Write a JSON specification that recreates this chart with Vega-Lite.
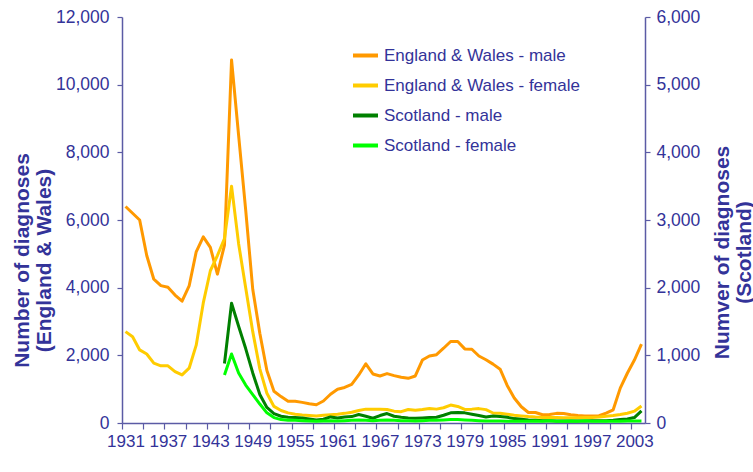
{
"$schema":"https://vega.github.io/schema/vega-lite/v6.json",
"width":523,"height":406,
"autosize":{"type":"none"},
"padding":{"left":122,"top":17,"right":108,"bottom":49},
"background":"white",
"config":{"view":{"stroke":null},"font":"Liberation Sans",
 "axis":{"grid":false,"domainColor":"#5B5BA5","tickColor":"#5B5BA5","labelColor":"#333399","titleColor":"#333399","labelFontSize":17,"domainWidth":1.5,"tickWidth":1.2}},
"datasets":{
"ew":[
{"year":1931,"series":"England & Wales - male","value":6400},{"year":1932,"series":"England & Wales - male","value":6200},{"year":1933,"series":"England & Wales - male","value":6000},{"year":1934,"series":"England & Wales - male","value":4950},{"year":1935,"series":"England & Wales - male","value":4250},{"year":1936,"series":"England & Wales - male","value":4060},{"year":1937,"series":"England & Wales - male","value":4010},{"year":1938,"series":"England & Wales - male","value":3780},{"year":1939,"series":"England & Wales - male","value":3600},{"year":1940,"series":"England & Wales - male","value":4050},{"year":1941,"series":"England & Wales - male","value":5060},{"year":1942,"series":"England & Wales - male","value":5500},{"year":1943,"series":"England & Wales - male","value":5190},{"year":1944,"series":"England & Wales - male","value":4400},{"year":1945,"series":"England & Wales - male","value":5260},{"year":1946,"series":"England & Wales - male","value":10730},{"year":1947,"series":"England & Wales - male","value":8500},{"year":1948,"series":"England & Wales - male","value":6300},{"year":1949,"series":"England & Wales - male","value":3950},{"year":1950,"series":"England & Wales - male","value":2650},{"year":1951,"series":"England & Wales - male","value":1550},{"year":1952,"series":"England & Wales - male","value":940},{"year":1953,"series":"England & Wales - male","value":780},{"year":1954,"series":"England & Wales - male","value":640},{"year":1955,"series":"England & Wales - male","value":640},{"year":1956,"series":"England & Wales - male","value":610},{"year":1957,"series":"England & Wales - male","value":570},{"year":1958,"series":"England & Wales - male","value":540},{"year":1959,"series":"England & Wales - male","value":650},{"year":1960,"series":"England & Wales - male","value":850},{"year":1961,"series":"England & Wales - male","value":1000},{"year":1962,"series":"England & Wales - male","value":1050},{"year":1963,"series":"England & Wales - male","value":1140},{"year":1964,"series":"England & Wales - male","value":1420},{"year":1965,"series":"England & Wales - male","value":1750},{"year":1966,"series":"England & Wales - male","value":1450},{"year":1967,"series":"England & Wales - male","value":1390},{"year":1968,"series":"England & Wales - male","value":1460},{"year":1969,"series":"England & Wales - male","value":1400},{"year":1970,"series":"England & Wales - male","value":1350},{"year":1971,"series":"England & Wales - male","value":1320},{"year":1972,"series":"England & Wales - male","value":1390},{"year":1973,"series":"England & Wales - male","value":1860},{"year":1974,"series":"England & Wales - male","value":1980},{"year":1975,"series":"England & Wales - male","value":2020},{"year":1976,"series":"England & Wales - male","value":2210},{"year":1977,"series":"England & Wales - male","value":2410},{"year":1978,"series":"England & Wales - male","value":2410},{"year":1979,"series":"England & Wales - male","value":2190},{"year":1980,"series":"England & Wales - male","value":2180},{"year":1981,"series":"England & Wales - male","value":1980},{"year":1982,"series":"England & Wales - male","value":1870},{"year":1983,"series":"England & Wales - male","value":1740},{"year":1984,"series":"England & Wales - male","value":1590},{"year":1985,"series":"England & Wales - male","value":1110},{"year":1986,"series":"England & Wales - male","value":740},{"year":1987,"series":"England & Wales - male","value":480},{"year":1988,"series":"England & Wales - male","value":310},{"year":1989,"series":"England & Wales - male","value":310},{"year":1990,"series":"England & Wales - male","value":245},{"year":1991,"series":"England & Wales - male","value":250},{"year":1992,"series":"England & Wales - male","value":285},{"year":1993,"series":"England & Wales - male","value":280},{"year":1994,"series":"England & Wales - male","value":245},{"year":1995,"series":"England & Wales - male","value":220},{"year":1996,"series":"England & Wales - male","value":210},{"year":1997,"series":"England & Wales - male","value":210},{"year":1998,"series":"England & Wales - male","value":215},{"year":1999,"series":"England & Wales - male","value":290},{"year":2000,"series":"England & Wales - male","value":390},{"year":2001,"series":"England & Wales - male","value":1030},{"year":2002,"series":"England & Wales - male","value":1470},{"year":2003,"series":"England & Wales - male","value":1860},{"year":2004,"series":"England & Wales - male","value":2330},
{"year":1931,"series":"England & Wales - female","value":2700},{"year":1932,"series":"England & Wales - female","value":2550},{"year":1933,"series":"England & Wales - female","value":2160},{"year":1934,"series":"England & Wales - female","value":2040},{"year":1935,"series":"England & Wales - female","value":1770},{"year":1936,"series":"England & Wales - female","value":1690},{"year":1937,"series":"England & Wales - female","value":1690},{"year":1938,"series":"England & Wales - female","value":1520},{"year":1939,"series":"England & Wales - female","value":1420},{"year":1940,"series":"England & Wales - female","value":1620},{"year":1941,"series":"England & Wales - female","value":2300},{"year":1942,"series":"England & Wales - female","value":3550},{"year":1943,"series":"England & Wales - female","value":4500},{"year":1944,"series":"England & Wales - female","value":4950},{"year":1945,"series":"England & Wales - female","value":5450},{"year":1946,"series":"England & Wales - female","value":7000},{"year":1947,"series":"England & Wales - female","value":5300},{"year":1948,"series":"England & Wales - female","value":4000},{"year":1949,"series":"England & Wales - female","value":2700},{"year":1950,"series":"England & Wales - female","value":1600},{"year":1951,"series":"England & Wales - female","value":880},{"year":1952,"series":"England & Wales - female","value":490},{"year":1953,"series":"England & Wales - female","value":370},{"year":1954,"series":"England & Wales - female","value":300},{"year":1955,"series":"England & Wales - female","value":260},{"year":1956,"series":"England & Wales - female","value":240},{"year":1957,"series":"England & Wales - female","value":225},{"year":1958,"series":"England & Wales - female","value":210},{"year":1959,"series":"England & Wales - female","value":230},{"year":1960,"series":"England & Wales - female","value":245},{"year":1961,"series":"England & Wales - female","value":260},{"year":1962,"series":"England & Wales - female","value":285},{"year":1963,"series":"England & Wales - female","value":320},{"year":1964,"series":"England & Wales - female","value":370},{"year":1965,"series":"England & Wales - female","value":410},{"year":1966,"series":"England & Wales - female","value":405},{"year":1967,"series":"England & Wales - female","value":410},{"year":1968,"series":"England & Wales - female","value":400},{"year":1969,"series":"England & Wales - female","value":350},{"year":1970,"series":"England & Wales - female","value":335},{"year":1971,"series":"England & Wales - female","value":400},{"year":1972,"series":"England & Wales - female","value":375},{"year":1973,"series":"England & Wales - female","value":400},{"year":1974,"series":"England & Wales - female","value":430},{"year":1975,"series":"England & Wales - female","value":410},{"year":1976,"series":"England & Wales - female","value":450},{"year":1977,"series":"England & Wales - female","value":530},{"year":1978,"series":"England & Wales - female","value":490},{"year":1979,"series":"England & Wales - female","value":400},{"year":1980,"series":"England & Wales - female","value":410},{"year":1981,"series":"England & Wales - female","value":425},{"year":1982,"series":"England & Wales - female","value":395},{"year":1983,"series":"England & Wales - female","value":295},{"year":1984,"series":"England & Wales - female","value":290},{"year":1985,"series":"England & Wales - female","value":260},{"year":1986,"series":"England & Wales - female","value":230},{"year":1987,"series":"England & Wales - female","value":210},{"year":1988,"series":"England & Wales - female","value":190},{"year":1989,"series":"England & Wales - female","value":175},{"year":1990,"series":"England & Wales - female","value":165},{"year":1991,"series":"England & Wales - female","value":160},{"year":1992,"series":"England & Wales - female","value":160},{"year":1993,"series":"England & Wales - female","value":155},{"year":1994,"series":"England & Wales - female","value":155},{"year":1995,"series":"England & Wales - female","value":155},{"year":1996,"series":"England & Wales - female","value":160},{"year":1997,"series":"England & Wales - female","value":165},{"year":1998,"series":"England & Wales - female","value":180},{"year":1999,"series":"England & Wales - female","value":200},{"year":2000,"series":"England & Wales - female","value":220},{"year":2001,"series":"England & Wales - female","value":250},{"year":2002,"series":"England & Wales - female","value":290},{"year":2003,"series":"England & Wales - female","value":350},{"year":2004,"series":"England & Wales - female","value":500}
],
"sc":[
{"year":1945,"series":"Scotland - male","value":880},{"year":1946,"series":"Scotland - male","value":1770},{"year":1947,"series":"Scotland - male","value":1430},{"year":1948,"series":"Scotland - male","value":1100},{"year":1949,"series":"Scotland - male","value":740},{"year":1950,"series":"Scotland - male","value":420},{"year":1951,"series":"Scotland - male","value":230},{"year":1952,"series":"Scotland - male","value":140},{"year":1953,"series":"Scotland - male","value":100},{"year":1954,"series":"Scotland - male","value":85},{"year":1955,"series":"Scotland - male","value":80},{"year":1956,"series":"Scotland - male","value":75},{"year":1957,"series":"Scotland - male","value":60},{"year":1958,"series":"Scotland - male","value":45},{"year":1959,"series":"Scotland - male","value":55},{"year":1960,"series":"Scotland - male","value":90},{"year":1961,"series":"Scotland - male","value":75},{"year":1962,"series":"Scotland - male","value":90},{"year":1963,"series":"Scotland - male","value":95},{"year":1964,"series":"Scotland - male","value":125},{"year":1965,"series":"Scotland - male","value":100},{"year":1966,"series":"Scotland - male","value":70},{"year":1967,"series":"Scotland - male","value":110},{"year":1968,"series":"Scotland - male","value":140},{"year":1969,"series":"Scotland - male","value":100},{"year":1970,"series":"Scotland - male","value":85},{"year":1971,"series":"Scotland - male","value":75},{"year":1972,"series":"Scotland - male","value":70},{"year":1973,"series":"Scotland - male","value":75},{"year":1974,"series":"Scotland - male","value":80},{"year":1975,"series":"Scotland - male","value":85},{"year":1976,"series":"Scotland - male","value":115},{"year":1977,"series":"Scotland - male","value":150},{"year":1978,"series":"Scotland - male","value":155},{"year":1979,"series":"Scotland - male","value":150},{"year":1980,"series":"Scotland - male","value":130},{"year":1981,"series":"Scotland - male","value":110},{"year":1982,"series":"Scotland - male","value":90},{"year":1983,"series":"Scotland - male","value":105},{"year":1984,"series":"Scotland - male","value":95},{"year":1985,"series":"Scotland - male","value":85},{"year":1986,"series":"Scotland - male","value":65},{"year":1987,"series":"Scotland - male","value":55},{"year":1988,"series":"Scotland - male","value":45},{"year":1989,"series":"Scotland - male","value":40},{"year":1990,"series":"Scotland - male","value":35},{"year":1991,"series":"Scotland - male","value":35},{"year":1992,"series":"Scotland - male","value":30},{"year":1993,"series":"Scotland - male","value":30},{"year":1994,"series":"Scotland - male","value":30},{"year":1995,"series":"Scotland - male","value":30},{"year":1996,"series":"Scotland - male","value":30},{"year":1997,"series":"Scotland - male","value":35},{"year":1998,"series":"Scotland - male","value":35},{"year":1999,"series":"Scotland - male","value":35},{"year":2000,"series":"Scotland - male","value":40},{"year":2001,"series":"Scotland - male","value":50},{"year":2002,"series":"Scotland - male","value":60},{"year":2003,"series":"Scotland - male","value":80},{"year":2004,"series":"Scotland - male","value":180},
{"year":1945,"series":"Scotland - female","value":710},{"year":1946,"series":"Scotland - female","value":1020},{"year":1947,"series":"Scotland - female","value":740},{"year":1948,"series":"Scotland - female","value":560},{"year":1949,"series":"Scotland - female","value":420},{"year":1950,"series":"Scotland - female","value":280},{"year":1951,"series":"Scotland - female","value":150},{"year":1952,"series":"Scotland - female","value":80},{"year":1953,"series":"Scotland - female","value":50},{"year":1954,"series":"Scotland - female","value":40},{"year":1955,"series":"Scotland - female","value":40},{"year":1956,"series":"Scotland - female","value":35},{"year":1957,"series":"Scotland - female","value":30},{"year":1958,"series":"Scotland - female","value":25},{"year":1959,"series":"Scotland - female","value":30},{"year":1960,"series":"Scotland - female","value":35},{"year":1961,"series":"Scotland - female","value":30},{"year":1962,"series":"Scotland - female","value":35},{"year":1963,"series":"Scotland - female","value":40},{"year":1964,"series":"Scotland - female","value":45},{"year":1965,"series":"Scotland - female","value":40},{"year":1966,"series":"Scotland - female","value":35},{"year":1967,"series":"Scotland - female","value":40},{"year":1968,"series":"Scotland - female","value":45},{"year":1969,"series":"Scotland - female","value":40},{"year":1970,"series":"Scotland - female","value":35},{"year":1971,"series":"Scotland - female","value":35},{"year":1972,"series":"Scotland - female","value":30},{"year":1973,"series":"Scotland - female","value":35},{"year":1974,"series":"Scotland - female","value":40},{"year":1975,"series":"Scotland - female","value":40},{"year":1976,"series":"Scotland - female","value":45},{"year":1977,"series":"Scotland - female","value":50},{"year":1978,"series":"Scotland - female","value":50},{"year":1979,"series":"Scotland - female","value":45},{"year":1980,"series":"Scotland - female","value":40},{"year":1981,"series":"Scotland - female","value":35},{"year":1982,"series":"Scotland - female","value":30},{"year":1983,"series":"Scotland - female","value":30},{"year":1984,"series":"Scotland - female","value":30},{"year":1985,"series":"Scotland - female","value":25},{"year":1986,"series":"Scotland - female","value":25},{"year":1987,"series":"Scotland - female","value":25},{"year":1988,"series":"Scotland - female","value":25},{"year":1989,"series":"Scotland - female","value":30},{"year":1990,"series":"Scotland - female","value":25},{"year":1991,"series":"Scotland - female","value":35},{"year":1992,"series":"Scotland - female","value":25},{"year":1993,"series":"Scotland - female","value":25},{"year":1994,"series":"Scotland - female","value":30},{"year":1995,"series":"Scotland - female","value":25},{"year":1996,"series":"Scotland - female","value":35},{"year":1997,"series":"Scotland - female","value":25},{"year":1998,"series":"Scotland - female","value":25},{"year":1999,"series":"Scotland - female","value":25},{"year":2000,"series":"Scotland - female","value":25},{"year":2001,"series":"Scotland - female","value":25},{"year":2002,"series":"Scotland - female","value":30},{"year":2003,"series":"Scotland - female","value":30},{"year":2004,"series":"Scotland - female","value":30}
]},
"encoding":{
 "x":{"field":"year","type":"quantitative","scale":{"domain":[1930.5,2004.5],"nice":false,"zero":false},
  "axis":{"title":null,"values":[1930.5,1933.5,1936.5,1939.5,1942.5,1945.5,1948.5,1951.5,1954.5,1957.5,1960.5,1963.5,1966.5,1969.5,1972.5,1975.5,1978.5,1981.5,1984.5,1987.5,1990.5,1993.5,1996.5,1999.5,2002.5],
   "labelExpr":"(datum.value - 1930.5) % 6 == 0 ? format(datum.value + 0.5, 'd') : ''","labelOffset":3.5,"labelOverlap":false,"labelFlush":false,"labelBound":false,"tickSize":6,"labelPadding":4}},
 "color":{"field":"series","type":"nominal",
  "scale":{"domain":["England & Wales - male","England & Wales - female","Scotland - male","Scotland - female"],"range":["#FF9900","#FFCC00","#008000","#00FF00"]},
  "legend":{"title":null,"orient":"none","legendX":229,"legendY":24,"symbolType":"stroke","symbolSize":625,"symbolStrokeWidth":4,"labelFontSize":17,"labelColor":"#333399","labelOffset":4,"rowPadding":7,"padding":0,"labelLimit":400}}
},
"layer":[
 {"data":{"name":"ew"},"mark":{"type":"line","strokeWidth":3,"strokeJoin":"round"},
  "encoding":{"y":{"field":"value","type":"quantitative","scale":{"domain":[0,12000],"nice":false},
   "axis":{"orient":"left","values":[0,2000,4000,6000,8000,10000,12000],"format":",.0f","tickSize":5,"labelPadding":8,"labelFontSize":17.5,
    "title":["Number of diagnoses","(England & Wales)"],"titleFontSize":21,"titleFontWeight":"bold","titleAngle":-90,"titleX":-100,"titleY":243,"titleAlign":"center","titleBaseline":"middle","titleLineHeight":22}}}},
 {"data":{"name":"sc"},"mark":{"type":"line","strokeWidth":3,"strokeJoin":"round"},
  "encoding":{"y":{"field":"value","type":"quantitative","scale":{"domain":[0,6000],"nice":false},
   "axis":{"orient":"right","values":[0,1000,2000,3000,4000,5000,6000],"format":",.0f","tickSize":5,"labelPadding":6,"labelFontSize":17.5,
    "title":["Numver of diagnoses","(Scotland)"],"titleFontSize":21,"titleFontWeight":"bold","titleAngle":-90,"titleX":77,"titleY":235,"titleAlign":"center","titleBaseline":"middle","titleLineHeight":22}}}}
],
"resolve":{"scale":{"y":"independent"}}
}
